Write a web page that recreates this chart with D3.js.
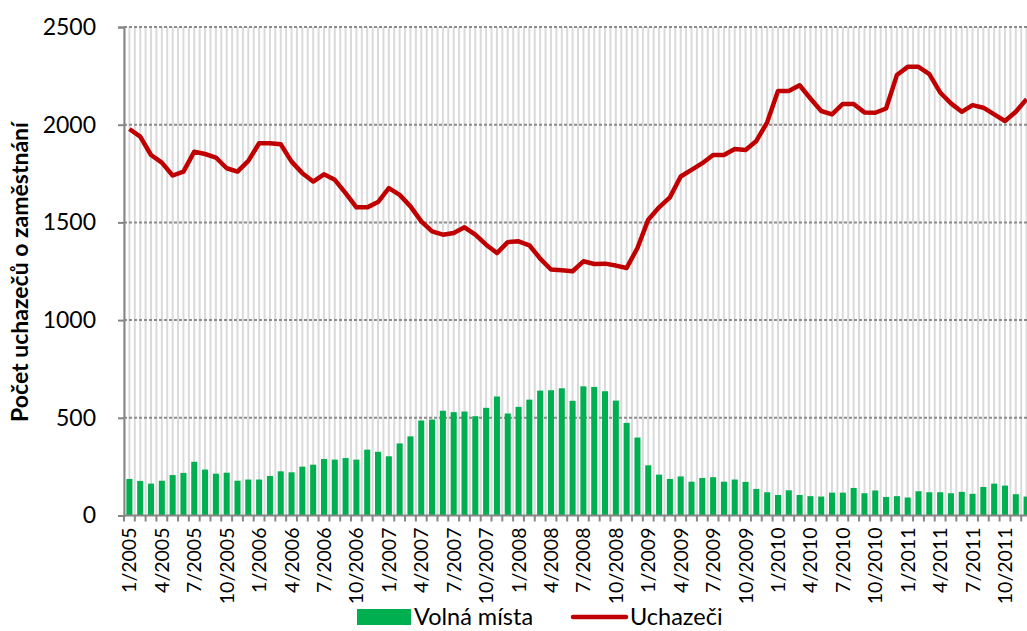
<!DOCTYPE html>
<html>
<head>
<meta charset="utf-8">
<script src="https://cdn.jsdelivr.net/npm/d3@7"></script>
<style>
  body { margin: 0; background: #fff; }
  svg { display: block; font-family: Lato, "Open Sans", sans-serif; }
  .tick text { fill: #000; }
</style>
</head>
<body>
<svg id="chart" width="1027" height="631"></svg>
<script>
// months 1/2005 .. 12/2011
const years = [2005, 2006, 2007, 2008, 2009, 2010, 2011];
const months = years.flatMap(y => d3.range(1, 13).map(m => `${m}/${y}`));

// Volná místa (vacancies)
const volnaMista = [
  187, 177, 163, 178, 207, 218, 275, 235, 214, 219, 178, 184,
  184, 202, 226, 221, 250, 260, 289, 286, 294, 286, 337, 326,
  303, 369, 405, 486, 491, 536, 529, 532, 508, 551, 609, 522,
  556, 593, 639, 641, 651, 587, 661, 658, 636, 588, 474, 399,
  257, 209, 187, 200, 173, 192, 196, 173, 184, 172, 136, 119,
  105, 129, 105, 99, 97, 117, 117, 141, 114, 128, 95, 99,
  92, 124, 119, 119, 114, 121, 111, 146, 163, 153, 109, 97
];

// Uchazeči (job seekers)
const uchazeci = [
  1978, 1939, 1845, 1806, 1740, 1760, 1862, 1850, 1832, 1777, 1760, 1815,
  1905, 1905, 1900, 1811, 1752, 1709, 1746, 1718, 1650, 1577, 1577, 1604,
  1675, 1641, 1582, 1505, 1454, 1437, 1446, 1475, 1437, 1386, 1343, 1399,
  1403, 1383, 1315, 1259, 1255, 1250, 1301, 1287, 1289, 1279, 1267, 1369,
  1514, 1577, 1628, 1735, 1769, 1803, 1845, 1845, 1876, 1871, 1917, 2012,
  2173, 2173, 2202, 2134, 2070, 2053, 2106, 2106, 2063, 2061, 2083, 2254,
  2296, 2296, 2259, 2165, 2109, 2066, 2100, 2087, 2053, 2019, 2066, 2131
];

const yTicks = [0, 500, 1000, 1500, 2000, 2500];

const svg = d3.select('#chart');
const plot = { left: 124, right: 1032, top: 27, bottom: 515.5 };

const x = d3.scaleBand().domain(months).range([plot.left, plot.right]).paddingInner(0.44).paddingOuter(0.22);
const y = d3.scaleLinear().domain([0, 2500]).range([plot.bottom, plot.top]);
const step = x.step();
const start = plot.left;

// vertical light grid lines (two per month)
const vg = svg.append('g');
d3.range(0, months.length * 2 + 1).forEach(k => {
  const xx = start + k * step / 2;
  vg.append('line')
    .attr('x1', xx).attr('x2', xx)
    .attr('y1', plot.top).attr('y2', plot.bottom)
    .attr('stroke', '#dadada').attr('stroke-width', 2);
});

// horizontal dashed grid
svg.append('g')
  .selectAll('line')
  .data(yTicks.slice(1))
  .join('line')
  .attr('x1', plot.left).attr('x2', plot.right)
  .attr('y1', d => y(d)).attr('y2', d => y(d))
  .attr('stroke', '#8c8c8c').attr('stroke-width', 2)
  .attr('stroke-dasharray', '3,2');

// bars
svg.append('g')
  .selectAll('rect')
  .data(volnaMista)
  .join('rect')
  .attr('x', (d, i) => x(months[i]))
  .attr('width', x.bandwidth())
  .attr('y', d => y(d))
  .attr('height', d => y(0) - y(d))
  .attr('fill', '#00b050');

// line
const line = d3.line()
  .x((d, i) => x(months[i]) + x.bandwidth() / 2)
  .y(d => y(d));

svg.append('path')
  .datum(uchazeci)
  .attr('d', line)
  .attr('fill', 'none')
  .attr('stroke', '#c00000')
  .attr('stroke-width', 4.5)
  .attr('stroke-linejoin', 'round');

// y axis
const yAxis = svg.append('g')
  .attr('transform', `translate(${plot.left},0)`)
  .call(d3.axisLeft(y).tickValues(yTicks).tickFormat(d3.format('d')).tickSize(6).tickPadding(22));
yAxis.selectAll('path, line').attr('stroke', '#868686').attr('stroke-width', 2);
yAxis.selectAll('text').attr('font-size', 23).attr('font-family', 'Lato, sans-serif');

// x axis line + ticks at month boundaries
const xg = svg.append('g');
xg.append('line')
  .attr('x1', plot.left).attr('x2', plot.right)
  .attr('y1', plot.bottom).attr('y2', plot.bottom)
  .attr('stroke', '#868686').attr('stroke-width', 2);
d3.range(0, months.length + 1).forEach(k => {
  const xx = start + k * step;
  xg.append('line')
    .attr('x1', xx).attr('x2', xx)
    .attr('y1', plot.bottom).attr('y2', plot.bottom + 6)
    .attr('stroke', '#868686').attr('stroke-width', 2);
});

// x labels every 3 months
xg.selectAll('text')
  .data(months.filter((m, i) => i % 3 === 0))
  .join('text')
  .attr('transform', d => `translate(${x(d) + x.bandwidth() / 2 + 7},${plot.bottom + 12}) rotate(-90)`)
  .attr('text-anchor', 'end')
  .attr('font-size', 19.5)
  .text(d => d);

// y title
svg.append('text')
  .attr('transform', 'translate(28,272) rotate(-90)')
  .attr('text-anchor', 'middle')
  .attr('font-size', 23)
  .attr('font-weight', 'bold')
  .text('Počet uchazečů o zaměstnání');

// legend
const lg = svg.append('g');
lg.append('rect').attr('x', 357).attr('y', 609).attr('width', 54).attr('height', 16).attr('fill', '#00b050');
lg.append('text').attr('x', 414).attr('y', 625).attr('font-size', 23.5).text('Volná místa');
lg.append('line').attr('x1', 573).attr('x2', 626).attr('y1', 617).attr('y2', 617)
  .attr('stroke', '#c00000').attr('stroke-width', 4.5).attr('stroke-linecap', 'round');
lg.append('text').attr('x', 630).attr('y', 625).attr('font-size', 23.5).text('Uchazeči');
</script>
</body>
</html>
